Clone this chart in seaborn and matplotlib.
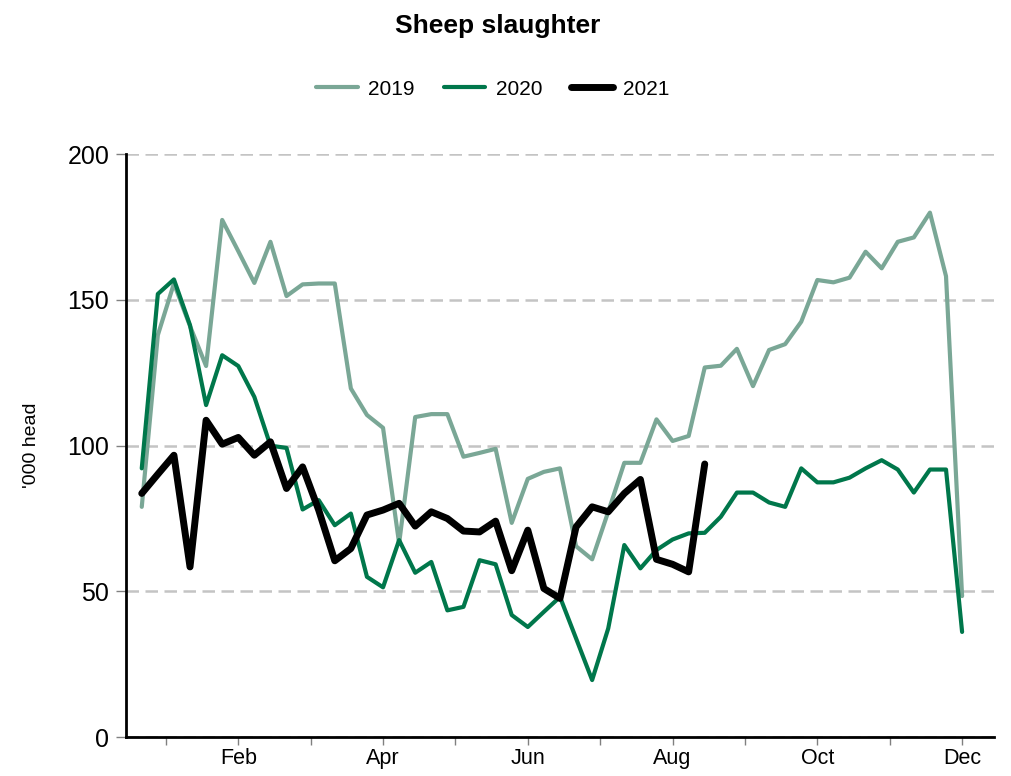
import pandas as pd
import matplotlib.pyplot as plt
import seaborn as sns

# weekly sheep slaughter, '000 head (week 1..52)
sheep_2019 = [79.0, 137.9, 155.6, 141.0, 127.3, 177.4, 166.7, 155.8, 169.9, 151.3,
              155.3, 155.6, 155.6, 119.6, 110.5, 106.1, 66.5, 109.8, 110.8, 110.8,
              96.2, 97.5, 98.9, 73.5, 88.6, 91.0, 92.2, 65.5, 61.0, 77.3,
              94.1, 94.1, 109.0, 101.6, 103.3, 126.8, 127.4, 133.2, 120.4, 132.8,
              134.8, 142.5, 156.8, 156.0, 157.6, 166.5, 160.8, 169.9, 171.4, 179.9,
              158.1, 48.4]
sheep_2020 = [92.2, 152.0, 157.0, 141.3, 113.9, 131.0, 127.3, 116.7, 100.0, 99.2,
              78.1, 81.3, 72.7, 76.7, 55.0, 51.4, 67.6, 56.4, 60.1, 43.5,
              44.7, 60.7, 59.3, 41.9, 37.8, 43.0, 48.1, 33.9, 19.6, 37.3,
              65.9, 57.9, 64.2, 67.8, 69.9, 70.1, 75.6, 83.9, 83.9, 80.5,
              79.0, 92.2, 87.4, 87.4, 89.0, 92.2, 95.0, 91.8, 83.9, 91.8,
              91.8, 36.1]
sheep_2021 = [83.6, 90.2, 96.7, 58.4, 108.7, 100.5, 102.8, 96.7, 101.3, 85.3,
              92.7, 77.9, 60.5, 64.7, 76.2, 77.9, 80.2, 72.4, 77.3, 75.0,
              70.7, 70.4, 74.1, 57.1, 71.0, 51.0, 47.6, 72.1, 79.0, 77.3,
              83.6, 88.4, 61.0, 59.3, 56.7, 93.7]

years = ["2019", "2020", "2021"]
colors = ["#7aa796", "#00774b", "#000000"]
widths = [3, 3, 5]

month_labels = ["Jan", "Feb", "Mar", "Apr", "May", "Jun",
                "Jul", "Aug", "Sep", "Oct", "Nov", "Dec"]

series = [sheep_2019, sheep_2020, sheep_2021]
frames = []
for yr, vals in zip(years, series):
    frames.append(pd.DataFrame({"week": range(1, len(vals) + 1),
                                "head": vals, "year": yr}))
df = pd.concat(frames, ignore_index=True)

sns.set_theme(style="white")
plt.rcParams["font.family"] = ["Liberation Sans", "DejaVu Sans"]
plt.rcParams["text.color"] = "black"
plt.rcParams["axes.labelcolor"] = "black"
plt.rcParams["xtick.color"] = "black"
plt.rcParams["ytick.color"] = "black"

fig, ax = plt.subplots(figsize=(10.12, 7.76), dpi=100)
fig.subplots_adjust(left=0.1245, right=0.982, top=0.8015, bottom=0.05)

for yr, c, lw in zip(years, colors, widths):
    sns.lineplot(data=df[df["year"] == yr], x="week", y="head", color=c,
                 linewidth=lw, label=yr, ax=ax, zorder=3 if yr == "2021" else 2)

ax.set_xlim(0.02, 53.97)
ax.set_ylim(0, 200)
ax.set_yticks([0, 50, 100, 150, 200])
ax.yaxis.grid(True, color="#c4c4c4", linestyle=(0, (5, 2.6)), linewidth=1.8)
ax.xaxis.grid(False)

# month positions on the weekly scale
month_pos = [2.5 + 4.5 * m for m in range(12)]
ax.set_xticks(month_pos[1::2])
ax.set_xticklabels(month_labels[1::2])
ax.set_xticks(month_pos[0::2], minor=True)
ax.tick_params(axis="x", which="both", direction="out", length=6, width=1,
               color="#808080", bottom=True, labelsize=15.5, pad=2)
ax.tick_params(axis="y", direction="out", length=7, width=1, color="#808080",
               left=True, labelsize=18, pad=5)

for side in ["top", "right"]:
    ax.spines[side].set_visible(False)
for side in ["left", "bottom"]:
    ax.spines[side].set_color("black")
    ax.spines[side].set_linewidth(2)

ax.set_xlabel("")
ax.set_ylabel("'000 head", fontsize=14, labelpad=20)

leg = ax.legend(loc="center", bbox_to_anchor=(0.487, 0.885),
                bbox_transform=fig.transFigure, ncol=3, frameon=False,
                fontsize=15, handlelength=2.0, columnspacing=1.4,
                handletextpad=0.5)

fig.text(0.492, 0.967, "Sheep slaughter", ha="center", va="center",
         fontsize=19, fontweight="bold")

plt.savefig("out.png", dpi=100)
